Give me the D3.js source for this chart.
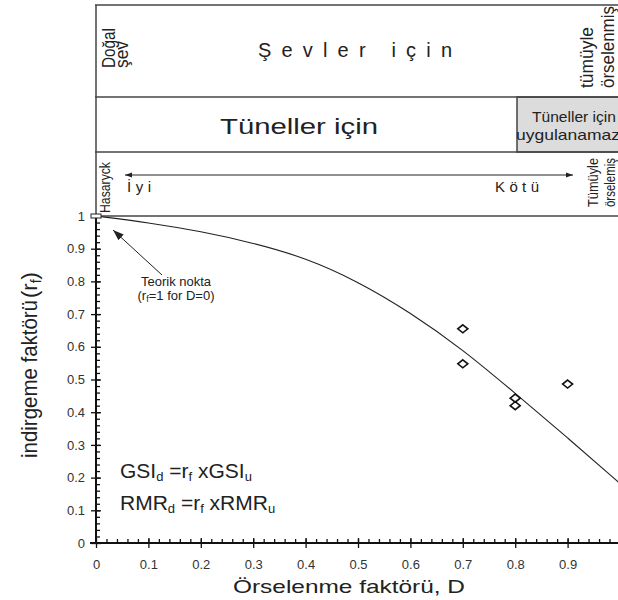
<!DOCTYPE html>
<html>
<head>
<meta charset="utf-8">
<script src="https://cdn.jsdelivr.net/npm/d3@7"></script>
<style>
  body { margin: 0; background: #fff; }
  svg { display: block; font-family: "Liberation Sans", Arial, sans-serif; }
</style>
</head>
<body>
<script>
const width = 618;
const height = 600;

// data
const curveD = [0, 0.1, 0.2, 0.3, 0.4, 0.5, 0.6, 0.7, 0.8, 0.9, 1.0];
const curveRf = [1, 0.980, 0.953, 0.918, 0.872, 0.800, 0.705, 0.592, 0.458, 0.322, 0.182];
const pointD = [0.70, 0.70, 0.80, 0.80, 0.90];
const pointRf = [0.655, 0.548, 0.443, 0.420, 0.486];
const xTicks = [0, 0.1, 0.2, 0.3, 0.4, 0.5, 0.6, 0.7, 0.8, 0.9];
const xTickLabels = ["0", "0.1", "0.2", "0.3", "0.4", "0.5", "0.6", "0.7", "0.8", "0.9"];
const yTicks = [0, 0.1, 0.2, 0.3, 0.4, 0.5, 0.6, 0.7, 0.8, 0.9, 1];
const yTickLabels = ["0", "0.1", "0.2", "0.3", "0.4", "0.5", "0.6", "0.7", "0.8", "0.9", "1"];
const minorTicks = d3.range(1, 50).map(i => i / 50);

const x = d3.scaleLinear().domain([0, 1]).range([96, 620]);
const y = d3.scaleLinear().domain([0, 1]).range([543, 216]);

const svg = d3.select('body').append('svg')
    .attr('width', width)
    .attr('height', height);

svg.append('defs').html(`
  <marker id="ah" viewBox="0 0 10 10" refX="10" refY="5" markerWidth="7" markerHeight="7" orient="auto-start-reverse">
    <path d="M0,1.5 L10,5 L0,8.5 z" fill="#222"/>
  </marker>
  <marker id="ahBig" viewBox="0 0 10 10" refX="10" refY="5" markerWidth="11" markerHeight="11" orient="auto">
    <path d="M0,1.5 L10,5 L0,8.5 z" fill="#222"/>
  </marker>`);

// header boxes
const lineCol = '#444';
svg.append('rect').attr('x', 517).attr('y', 97).attr('width', 110).attr('height', 55)
    .attr('fill', '#dcdcdc').attr('stroke', lineCol).attr('stroke-width', 1.5);
[5, 97, 152, 216].forEach(yy => {
    svg.append('line').attr('x1', 95).attr('x2', 620).attr('y1', yy).attr('y2', yy)
        .attr('stroke', lineCol).attr('stroke-width', 1.5);
});
svg.append('line').attr('x1', 96).attr('x2', 96).attr('y1', 5).attr('y2', 216)
    .attr('stroke', lineCol).attr('stroke-width', 1.5);

function vtext(txt, xb, yb, size, len) {
    const t = svg.append('text')
        .attr('transform', `translate(${xb},${yb}) rotate(-90)`)
        .attr('font-size', size).attr('fill', '#222').text(txt);
    if (len) t.attr('textLength', len).attr('lengthAdjust', 'spacingAndGlyphs');
    return t;
}

function htext(txt, xs, yb, size, len, adjust) {
    return svg.append('text').attr('x', xs).attr('y', yb)
        .attr('font-size', size).attr('fill', '#222')
        .attr('textLength', len).attr('lengthAdjust', adjust || 'spacingAndGlyphs')
        .text(txt);
}

// row 1
vtext('Doğal', 115, 68, 18, 40);
vtext('şev', 128, 68, 18, 27);
htext('Şevler için', 258, 57, 20, 194, 'spacing');
vtext('tümüyle', 593, 88, 18, 61);
vtext('örselenmiş', 614, 88, 18, 82);

// row 2
htext('Tüneller için', 220, 134, 22, 158);
htext('Tüneller için', 532, 122, 14.5, 84);
htext('uygulanamaz', 516, 140, 14.5, 104);

// row 3
vtext('Hasaryck', 110, 213, 14, 51);
svg.append('line').attr('x1', 125).attr('x2', 573).attr('y1', 175).attr('y2', 175)
    .attr('stroke', '#222').attr('stroke-width', 1)
    .attr('marker-start', 'url(#ah)').attr('marker-end', 'url(#ah)');
htext('İyi', 127, 192, 15, 24, 'spacing');
htext('Kötü', 495, 192, 15, 44, 'spacing');
vtext('Tümüyle', 598, 207, 14, 49);
vtext('örselemiş', 615, 207, 14, 49);

// axes
const gx = svg.append('g').attr('transform', `translate(0,${y(0)})`);
gx.call(d3.axisTop(x).tickValues(minorTicks).tickSize(4).tickFormat(''));
gx.call(g => g.select('.domain').remove());
const gxMaj = svg.append('g').attr('transform', `translate(0,${y(0)})`)
    .call(d3.axisBottom(x).tickValues(xTicks).tickSize(5).tickPadding(12)
        .tickFormat((d, i) => xTickLabels[i]));
gxMaj.select('.domain').remove();
gxMaj.selectAll('.tick line').attr('y1', -5);
svg.append('line').attr('x1', 90).attr('x2', 620).attr('y1', y(0)).attr('y2', y(0))
    .attr('stroke', '#111').attr('stroke-width', 2);

const gy = svg.append('g').attr('transform', `translate(${x(0)},0)`);
gy.call(d3.axisRight(y).tickValues(minorTicks).tickSize(4).tickFormat(''));
gy.call(g => g.select('.domain').remove());
const gyMaj = svg.append('g').attr('transform', `translate(${x(0)},0)`)
    .call(d3.axisLeft(y).tickValues(yTicks).tickSize(5).tickPadding(6)
        .tickFormat((d, i) => yTickLabels[i]));
gyMaj.select('.domain').remove();
gyMaj.selectAll('.tick line').attr('x1', 5);
svg.append('line').attr('x1', x(0)).attr('x2', x(0)).attr('y1', y(1)).attr('y2', y(0) + 1)
    .attr('stroke', '#111').attr('stroke-width', 2);

svg.selectAll('.tick line').attr('stroke', '#111').attr('stroke-width', 1.3);
svg.selectAll('.tick text').attr('font-size', 13).attr('fill', '#333')
    .attr('font-family', '"Liberation Sans", Arial, sans-serif');

// curve
const curveData = curveD.map((d, i) => [d, curveRf[i]]);
svg.append('path').datum(curveData)
    .attr('fill', 'none').attr('stroke', '#222').attr('stroke-width', 1.1)
    .attr('d', d3.line().x(d => x(d[0])).y(d => y(d[1])).curve(d3.curveBasis));

// points
const pts = pointD.map((d, i) => [d, pointRf[i]]);
svg.selectAll('path.pt').data(pts).enter().append('path')
    .attr('class', 'pt')
    .attr('transform', d => `translate(${x(d[0])},${y(d[1])})`)
    .attr('d', 'M0,-4 L5,0 L0,4 L-5,0 Z')
    .attr('fill', 'none').attr('stroke', '#111').attr('stroke-width', 1.6);

// theoretical point
svg.append('rect').attr('x', x(0) - 5).attr('y', y(1) - 2).attr('width', 10).attr('height', 4)
    .attr('fill', '#fff').attr('stroke', '#222').attr('stroke-width', 1);

// annotation
svg.append('line').attr('x1', 162).attr('y1', 275).attr('x2', 113).attr('y2', 230)
    .attr('stroke', '#222').attr('stroke-width', 1).attr('marker-end', 'url(#ahBig)');
svg.append('text').attr('x', 176).attr('y', 286).attr('text-anchor', 'middle')
    .attr('font-size', 13).attr('fill', '#222').text('Teorik nokta');
const ann = svg.append('text').attr('x', 176).attr('y', 300).attr('text-anchor', 'middle')
    .attr('font-size', 13).attr('fill', '#222');
ann.append('tspan').text('(r');
ann.append('tspan').attr('font-size', 9).attr('dy', 2).text('f');
ann.append('tspan').attr('dy', -2).text('=1 for D=0)');

// formulas
function formula(yb, parts) {
    const t = svg.append('text').attr('x', 120).attr('y', yb).attr('font-size', 21)
        .attr('fill', '#222');
    parts.forEach(p => {
        t.append('tspan').attr('font-size', p[1] ? 13 : 21).attr('dy', p[1] ? 3 : (p[2] ? -3 : 0)).text(p[0]);
    });
}
formula(478, [['GSI', 0], ['d', 1], [' =r', 0, 1], ['f', 1], [' xGSI', 0, 1], ['u', 1]]);
formula(510, [['RMR', 0], ['d', 1], [' =r', 0, 1], ['f', 1], [' xRMR', 0, 1], ['u', 1]]);

// axis titles
htext('Örselenme faktörü, D', 233, 593, 19, 232);
vtext('indirgeme faktörü', 37, 458, 22, 158);
const yl = svg.append('text').attr('transform', 'translate(37,298) rotate(-90)')
    .attr('font-size', 22).attr('fill', '#222');
yl.append('tspan').text('(r');
yl.append('tspan').attr('font-size', 14).attr('dy', 4).text('f');
yl.append('tspan').attr('dy', -4).text(')');
</script>
</body>
</html>
